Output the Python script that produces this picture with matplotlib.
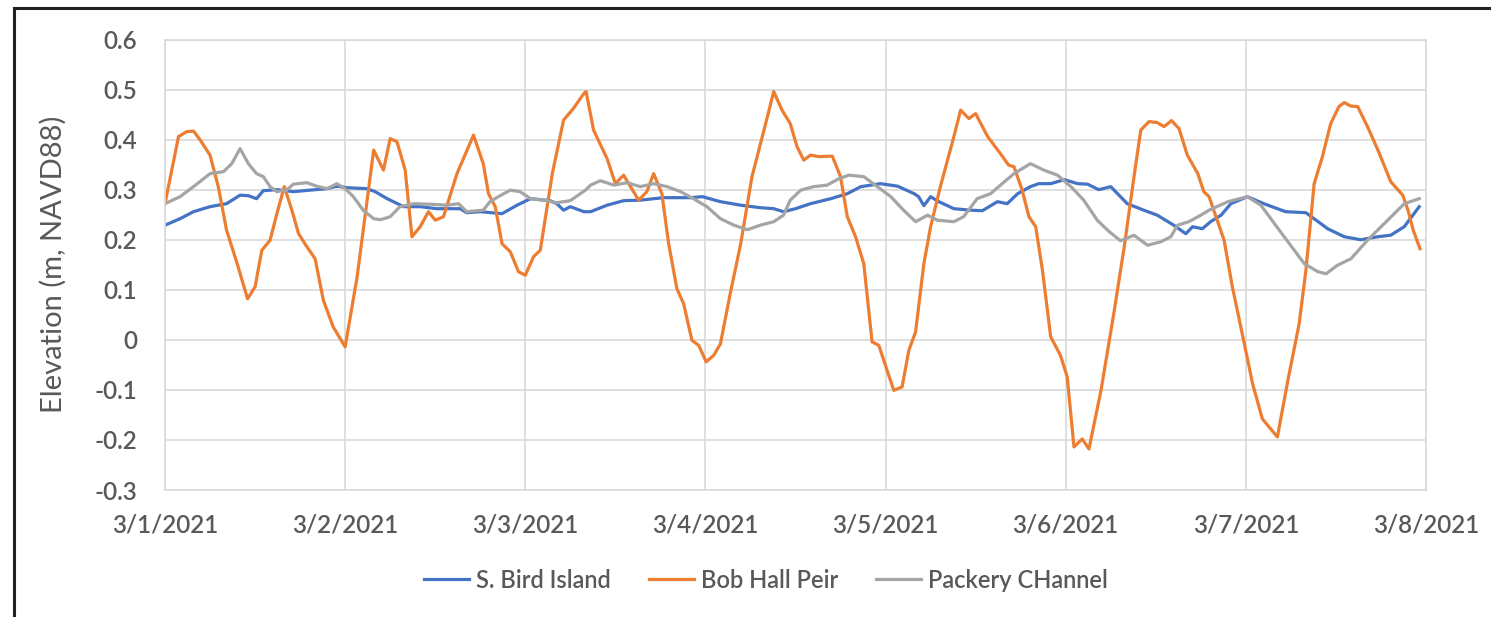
import matplotlib
matplotlib.use("Agg")
import matplotlib.pyplot as plt
from matplotlib.lines import Line2D
import pandas as pd

# hours since 3/1/2021 00:00 and water level (m, NAVD88)
bird_hours = [0, 2.0, 3.8, 6.0, 8.2, 10.0, 11.1, 12.2, 13.1, 14.9, 17.1, 19.3, 21.6, 22.9,
              24.2, 26.9, 28.0, 29.6, 31.8, 34.0, 36.2, 39.3, 40.2, 42.0, 44.9, 46.9, 48.7,
              51.3, 52.2, 53.1, 54.0, 55.8, 56.7, 58.9, 61.1, 63.3, 66.4, 70.0, 71.6, 74.0,
              76.7, 79.3, 81.1, 82.4, 84.0, 86.0, 88.7, 90.9, 92.7, 95.3, 97.6, 99.8, 100.4,
              101.1, 102.0, 103.1, 105.1, 107.3, 108.9, 110.9, 112.2, 113.6, 115.3, 116.4,
              118.0, 119.8, 121.6, 122.9, 124.4, 126.0, 128.2, 130.4, 132.2, 134.4, 136.0,
              136.9, 138.2, 139.3, 140.7, 142.0, 144.2, 146.4, 149.3, 152.0, 154.9, 157.1,
              159.3, 161.6, 163.3, 165.1, 167.1]
bird_level = [0.229, 0.242, 0.256, 0.266, 0.272, 0.289, 0.288, 0.282, 0.298, 0.300, 0.296,
              0.299, 0.302, 0.307, 0.304, 0.302, 0.296, 0.282, 0.266, 0.266, 0.262, 0.262,
              0.254, 0.256, 0.252, 0.269, 0.282, 0.278, 0.272, 0.259, 0.266, 0.256, 0.256,
              0.269, 0.278, 0.279, 0.284, 0.284, 0.286, 0.276, 0.269, 0.264, 0.262, 0.256,
              0.262, 0.272, 0.282, 0.292, 0.306, 0.312, 0.307, 0.292, 0.286, 0.268, 0.286,
              0.276, 0.262, 0.259, 0.258, 0.276, 0.272, 0.292, 0.306, 0.312, 0.312, 0.320,
              0.312, 0.311, 0.300, 0.306, 0.272, 0.259, 0.249, 0.229, 0.212, 0.226, 0.222,
              0.236, 0.249, 0.272, 0.286, 0.272, 0.256, 0.254, 0.222, 0.206, 0.200, 0.206,
              0.209, 0.226, 0.266]

bob_hours = [0, 1.8, 2.9, 3.8, 4.7, 6.0, 7.1, 8.2, 9.6, 11.0, 12.0, 12.9, 14.0, 14.9, 15.9,
             16.9, 17.8, 18.9, 20.0, 21.1, 22.4, 24.0, 25.6, 27.8, 29.1, 30.0, 30.9, 32.0,
             32.9, 34.0, 35.1, 36.0, 37.1, 38.9, 41.1, 42.4, 43.1, 44.0, 44.9, 46.0, 47.1,
             48.0, 49.1, 50.0, 51.6, 53.1, 54.4, 55.8, 56.1, 57.1, 58.9, 60.0, 61.1, 63.1,
             64.2, 65.1, 66.2, 67.1, 68.2, 69.1, 70.2, 71.1, 72.1, 73.1, 74.0, 75.3, 76.7,
             78.2, 79.8, 81.1, 82.2, 83.3, 84.2, 85.1, 86.0, 87.1, 88.9, 90.0, 90.9, 92.0,
             93.1, 94.2, 95.1, 96.2, 97.1, 98.2, 99.1, 100.0, 101.1, 102.0, 103.3, 105.1,
             106.0, 107.1, 108.0, 109.6, 111.3, 112.4, 113.1, 114.2, 115.1, 116.0, 116.9,
             118.0, 119.3, 120.2, 121.1, 122.2, 123.1, 124.7, 126.4, 127.8, 129.1, 130.0,
             131.1, 132.2, 133.1, 134.1, 135.1, 136.2, 137.6, 138.4, 139.1, 141.1, 142.2,
             143.8, 144.9, 146.2, 148.2, 149.6, 151.1, 152.0, 153.1, 154.2, 155.3, 156.4,
             157.1, 158.0, 158.9, 160.2, 161.6, 163.3, 164.9, 165.6, 166.3, 167.2]
bob_level = [0.272, 0.406, 0.416, 0.417, 0.399, 0.369, 0.306, 0.219, 0.153, 0.082, 0.106,
             0.179, 0.199, 0.252, 0.306, 0.259, 0.212, 0.186, 0.162, 0.079, 0.026, -0.014,
             0.126, 0.379, 0.339, 0.402, 0.396, 0.339, 0.206, 0.226, 0.256, 0.239, 0.246,
             0.332, 0.409, 0.352, 0.292, 0.266, 0.192, 0.176, 0.136, 0.129, 0.166, 0.179,
             0.332, 0.439, 0.462, 0.492, 0.496, 0.419, 0.362, 0.312, 0.329, 0.279, 0.296,
             0.332, 0.292, 0.192, 0.102, 0.072, -0.001, -0.011, -0.044, -0.031, -0.008,
             0.092, 0.192, 0.326, 0.419, 0.496, 0.459, 0.432, 0.386, 0.359, 0.369, 0.366,
             0.367, 0.326, 0.246, 0.206, 0.152, -0.004, -0.011, -0.061, -0.101, -0.094,
             -0.021, 0.016, 0.152, 0.226, 0.306, 0.406, 0.459, 0.442, 0.452, 0.406, 0.372,
             0.349, 0.346, 0.299, 0.246, 0.226, 0.139, 0.006, -0.031, -0.074, -0.214,
             -0.198, -0.218, -0.101, 0.052, 0.186, 0.326, 0.419, 0.436, 0.434, 0.426, 0.438,
             0.422, 0.369, 0.332, 0.296, 0.286, 0.199, 0.106, -0.008, -0.088, -0.158,
             -0.194, -0.081, 0.032, 0.139, 0.312, 0.366, 0.432, 0.466, 0.474, 0.467, 0.466,
             0.426, 0.379, 0.316, 0.289, 0.259, 0.219, 0.182]

packery_hours = [0, 2.0, 3.8, 6.0, 7.8, 8.9, 10.0, 11.1, 12.2, 13.1, 14.0, 14.9, 16.2, 17.1,
                 18.9, 20.2, 21.6, 22.9, 24.0, 25.1, 26.4, 27.8, 28.7, 30.0, 31.3, 33.1,
                 35.3, 37.6, 39.1, 40.2, 42.4, 43.3, 44.4, 46.0, 47.3, 48.7, 50.4, 52.2,
                 54.0, 56.0, 56.7, 58.0, 59.8, 61.6, 63.3, 65.1, 66.9, 68.7, 70.4, 72.2,
                 74.0, 75.8, 77.6, 79.3, 81.1, 82.4, 83.3, 84.7, 86.4, 88.2, 89.8, 91.1,
                 93.1, 94.9, 96.7, 98.4, 100.0, 101.6, 102.9, 105.1, 106.4, 108.2, 110.0,
                 111.3, 113.1, 115.3, 117.1, 118.9, 120.7, 122.4, 124.2, 125.8, 127.3,
                 129.1, 130.9, 132.7, 134.0, 134.9, 136.4, 138.0, 139.1, 141.6, 144.2,
                 146.0, 149.1, 151.8, 153.6, 154.7, 156.2, 158.0, 160.2, 162.9, 165.1, 167.1]
packery_level = [0.272, 0.286, 0.306, 0.332, 0.336, 0.352, 0.382, 0.352, 0.332, 0.326,
                 0.306, 0.296, 0.299, 0.311, 0.314, 0.307, 0.302, 0.312, 0.302, 0.286,
                 0.259, 0.242, 0.240, 0.246, 0.266, 0.272, 0.271, 0.269, 0.272, 0.256,
                 0.259, 0.276, 0.286, 0.299, 0.296, 0.282, 0.279, 0.274, 0.278, 0.299,
                 0.309, 0.318, 0.309, 0.314, 0.306, 0.312, 0.306, 0.296, 0.282, 0.266,
                 0.242, 0.229, 0.220, 0.229, 0.236, 0.249, 0.279, 0.299, 0.306, 0.309,
                 0.322, 0.329, 0.326, 0.306, 0.286, 0.259, 0.236, 0.249, 0.239, 0.236,
                 0.246, 0.282, 0.292, 0.309, 0.332, 0.352, 0.339, 0.329, 0.306, 0.279,
                 0.239, 0.216, 0.198, 0.209, 0.189, 0.196, 0.206, 0.229, 0.236, 0.249,
                 0.259, 0.276, 0.286, 0.269, 0.206, 0.152, 0.136, 0.132, 0.149, 0.162,
                 0.199, 0.239, 0.272, 0.282]

series_names = ["S. Bird Island", "Bob Hall Peir", "Packery CHannel"]
series_colors = ["#4472C4", "#ED7D31", "#A5A5A5"]

start = pd.Timestamp("2021-03-01")
days = pd.date_range(start, periods=8, freq="D")
y_ticks = [-0.3, -0.2, -0.1, 0, 0.1, 0.2, 0.3, 0.4, 0.5, 0.6]

text_color = "#595959"
grid_color = "#D9D9D9"
plt.rcParams["font.family"] = ["Lato", "DejaVu Sans"]
plt.rcParams["font.weight"] = "semibold"

fig = plt.figure(figsize=(14.91, 6.17), dpi=100)
ax = fig.add_axes([165 / 1491, 1 - 490 / 617, (1426 - 165) / 1491, (490 - 39.5) / 617])

for hours, level, name, color in zip(
    [bird_hours, bob_hours, packery_hours],
    [bird_level, bob_level, packery_level],
    series_names, series_colors,
):
    t = start + pd.to_timedelta(hours, unit="h")
    ax.plot(t, level, color=color, lw=2.3, label=name, solid_joinstyle="round")

ax.set_xlim(days[0], days[-1])
ax.set_ylim(-0.3, 0.6)
ax.set_xticks(days)
ax.set_xticklabels([f"{d.month}/{d.day}/{d.year}" for d in days])
ax.set_yticks(y_ticks)
ax.set_yticklabels([f"{v:g}" for v in y_ticks])

ax.grid(True, color=grid_color, lw=1.2)
ax.set_axisbelow(True)
for spine in ax.spines.values():
    spine.set_color(grid_color)
    spine.set_linewidth(1.2)
ax.tick_params(axis="both", length=0, labelsize=17.5, labelcolor=text_color)
ax.tick_params(axis="y", pad=20)
ax.tick_params(axis="x", pad=17)

ax.set_ylabel("Elevation (m, NAVD88)", fontsize=21, color=text_color)
ax.yaxis.set_label_coords(-0.078, 0.5)

fig.legend(loc="center", bbox_to_anchor=(766 / 1491, 1 - 580 / 617), ncol=3,
           frameon=False, fontsize=17, handlelength=1.9, handletextpad=0.3,
           columnspacing=1.6, labelcolor=text_color)

# outer chart frame (top and left edges)
frame_kw = dict(color="#222222", lw=2.2, transform=fig.transFigure)
fig.add_artist(Line2D([14 / 1491, 14 / 1491], [0, 1 - 8 / 617], **frame_kw))
fig.add_artist(Line2D([14 / 1491, 1], [1 - 8 / 617, 1 - 8 / 617], **frame_kw))

fig.savefig("out.png", dpi=100, facecolor="white")
